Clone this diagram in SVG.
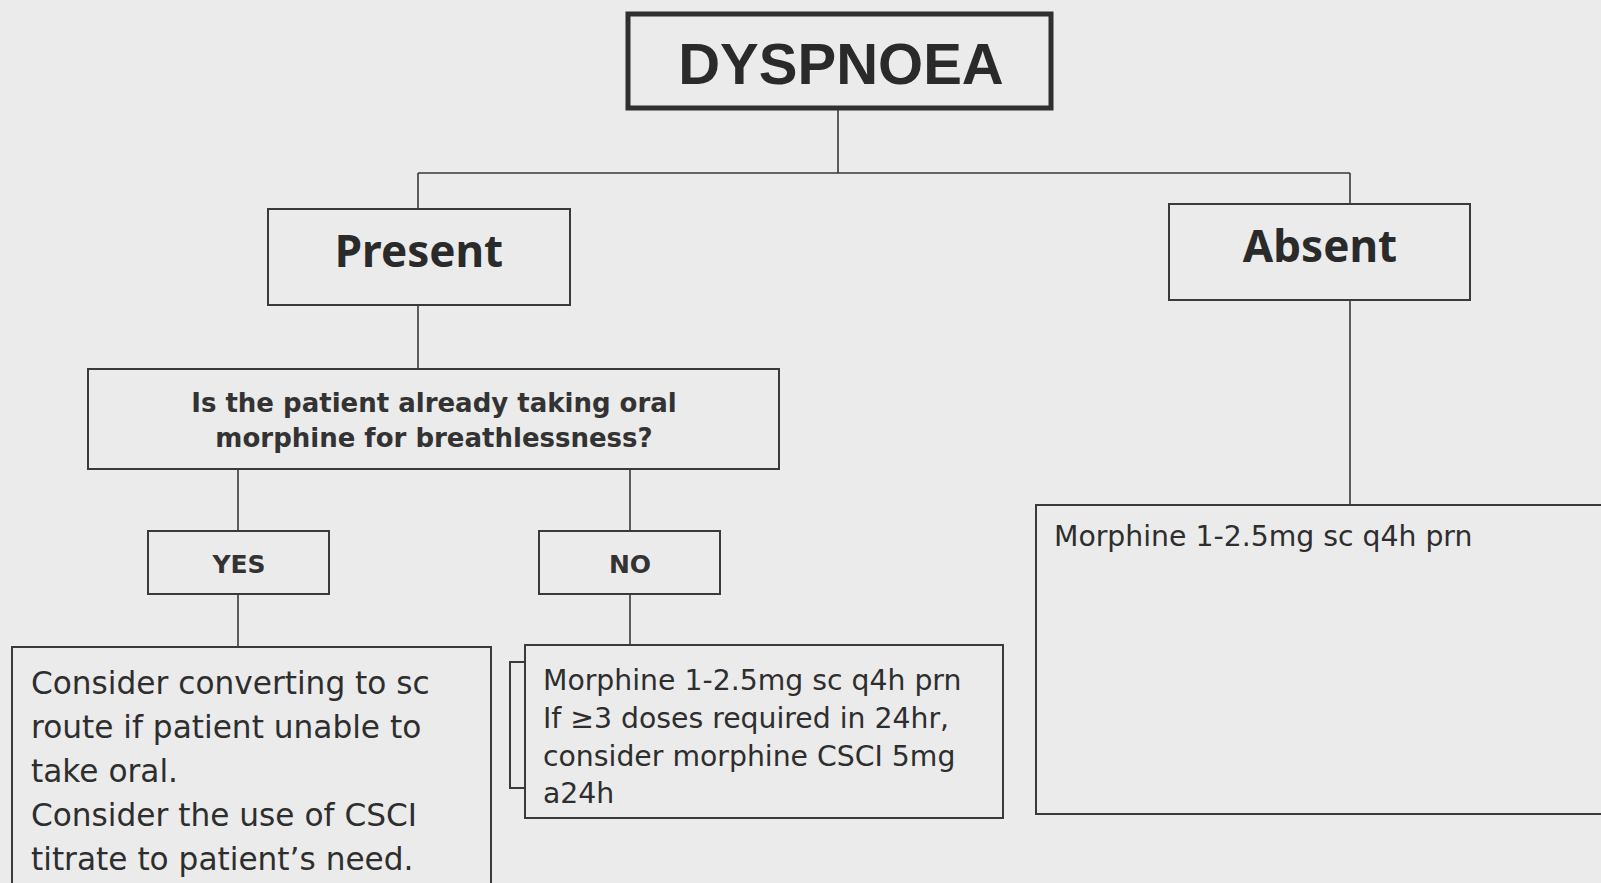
<svg xmlns="http://www.w3.org/2000/svg" width="1601" height="883" viewBox="0 0 1601 883">
<style>
.bg{fill:#ebebeb}
.box{fill:none;stroke:#3a3a3a;stroke-width:2}
.conn{fill:none;stroke:#3a3a3a;stroke-width:1.6}
.t{font-family:"DejaVu Sans",Verdana,sans-serif;fill:#2e2e2e}
.h{font-family:"Noto Sans","DejaVu Sans",sans-serif;font-weight:bold;fill:#2a2a2a;font-size:44px;text-anchor:middle}
.q{font-weight:bold;font-size:26px;text-anchor:middle;fill:#333}
.yn{font-weight:bold;font-size:25px;text-anchor:middle;fill:#333}
.big{font-size:31.2px}
.mid{font-size:28.3px}
</style>
<rect class="bg" x="0" y="0" width="1601" height="883"/>
<g id="connectors">
<path class="conn" d="M838 110 V173 M418 173 H1350 M418 173 V209 M1350 173 V204"/>
<path class="conn" d="M418 305 V369"/>
<path class="conn" d="M1350 300 V505"/>
<path class="conn" d="M238 469 V531 M630 469 V531"/>
<path class="conn" d="M238 594 V646 M630 594 V645"/>
</g>
<g id="dyspnoea">
<rect x="628" y="14" width="423" height="94" fill="none" stroke="#2f2f2f" stroke-width="5"/>
<text x="841" y="84" font-family="Liberation Sans,Arial,sans-serif" font-weight="bold" font-size="58" fill="#2a2a2a" text-anchor="middle">DYSPNOEA</text>
</g>
<g id="present">
<rect class="box" x="268" y="209" width="302" height="96"/>
<text class="h" x="419" y="267">Present</text>
</g>
<g id="absent">
<rect class="box" x="1169" y="204" width="301" height="96"/>
<text class="h" x="1320" y="262">Absent</text>
</g>
<g id="question">
<rect class="box" x="88" y="369" width="691" height="100"/>
<text class="t q" x="434" y="412">Is the patient already taking oral</text>
<text class="t q" x="434" y="447">morphine for breathlessness?</text>
</g>
<g id="yes">
<rect class="box" x="148" y="531" width="181" height="63"/>
<text class="t yn" x="239" y="573">YES</text>
</g>
<g id="no">
<rect class="box" x="539" y="531" width="181" height="63"/>
<text class="t yn" x="630" y="573">NO</text>
</g>
<g id="yes-action">
<rect class="box" x="12" y="647" width="479" height="250"/>
<text class="t big" x="31" y="694">Consider converting to sc</text>
<text class="t big" x="31" y="738">route if patient unable to</text>
<text class="t big" x="31" y="782">take oral.</text>
<text class="t big" x="31" y="826">Consider the use of CSCI</text>
<text class="t big" x="31" y="870">titrate to patient’s need.</text>
</g>
<g id="no-action">
<path class="box" d="M525 662 H510 V788 H525"/>
<rect class="box" x="525" y="645" width="478" height="173"/>
<text class="t mid" x="543" y="690">Morphine 1-2.5mg sc q4h prn</text>
<text class="t mid" x="543" y="728">If ≥3 doses required in 24hr,</text>
<text class="t mid" x="543" y="766">consider morphine CSCI 5mg</text>
<text class="t mid" x="543" y="803">a24h</text>
</g>
<g id="absent-action">
<rect class="box" x="1036" y="505" width="580" height="309"/>
<text class="t mid" x="1054" y="546">Morphine 1-2.5mg sc q4h prn</text>
</g>
</svg>
